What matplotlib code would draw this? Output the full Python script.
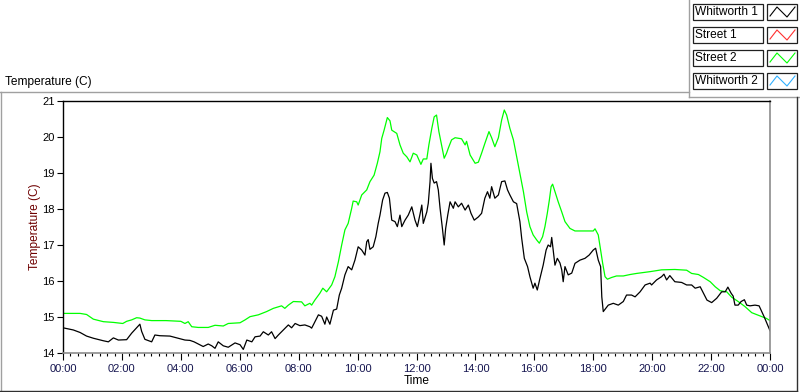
import matplotlib
matplotlib.use("Agg")
import matplotlib.pyplot as plt
from matplotlib.lines import Line2D
from matplotlib.patches import Rectangle

plt.rcParams['font.family'] = ['Liberation Sans', 'DejaVu Sans']

# ---------------- data ----------------
series_names = ["Whitworth 1", "Street 1", "Street 2", "Whitworth 2"]
series_colors = ["#000000", "#ff3030", "#00ff00", "#30b0ff"]

w1_hours = [0.00, 0.35, 0.58, 0.80, 1.03, 1.37, 1.54, 1.71, 1.88, 2.16, 2.33, 2.50, 2.61, 2.67,
            2.78, 3.01, 3.12, 3.29, 3.63, 3.91, 4.14, 4.31, 4.45, 4.59, 4.76, 4.93, 5.05, 5.16,
            5.27, 5.44, 5.61, 5.84, 6.01, 6.12, 6.24, 6.41, 6.52, 6.69, 6.80, 6.97, 7.08, 7.20,
            7.31, 7.48, 7.65, 7.76, 7.88, 8.04, 8.21, 8.38, 8.44, 8.51, 8.67, 8.78, 8.89, 8.95,
            9.06, 9.18, 9.29, 9.38, 9.46, 9.57, 9.68, 9.80, 9.91, 10.02, 10.14, 10.25, 10.31,
            10.36, 10.42, 10.53, 10.62, 10.70, 10.76, 10.85, 10.93, 11.01, 11.08, 11.16, 11.27,
            11.35, 11.44, 11.50, 11.61, 11.72, 11.84, 11.95, 12.03, 12.12, 12.18, 12.23, 12.35,
            12.40, 12.46, 12.49, 12.54, 12.60, 12.68, 12.74, 12.80, 12.88, 12.94, 12.99, 13.06,
            13.14, 13.25, 13.31, 13.42, 13.53, 13.65, 13.76, 13.85, 13.96, 14.10, 14.21, 14.32,
            14.41, 14.49, 14.55, 14.66, 14.78, 14.89, 15.00, 15.09, 15.17, 15.29, 15.40, 15.51,
            15.57, 15.66, 15.77, 15.85, 15.96, 16.02, 16.10, 16.19, 16.30, 16.40, 16.47, 16.55,
            16.59, 16.64, 16.70, 16.78, 16.87, 16.93, 16.98, 17.04, 17.15, 17.27, 17.38, 17.55,
            17.72, 17.86, 18.00, 18.08, 18.17, 18.25, 18.29, 18.34, 18.51, 18.68, 18.85, 19.02,
            19.13, 19.30, 19.42, 19.59, 19.76, 19.93, 19.98, 20.15, 20.32, 20.40, 20.49, 20.60,
            20.77, 21.00, 21.17, 21.34, 21.46, 21.63, 21.74, 21.86, 22.02, 22.19, 22.36, 22.48,
            22.57, 22.68, 22.75, 22.81, 22.92, 23.02, 23.13, 23.21, 23.32, 23.49, 23.63, 23.72,
            23.81, 23.92, 24.00]
w1_temp = [14.70, 14.64, 14.57, 14.47, 14.41, 14.34, 14.31, 14.42, 14.36, 14.37, 14.55, 14.70, 14.80, 14.60,
           14.38, 14.31, 14.50, 14.48, 14.47, 14.41, 14.36, 14.35, 14.31, 14.25, 14.18, 14.25, 14.20, 14.13,
           14.31, 14.20, 14.16, 14.28, 14.23, 14.10, 14.36, 14.31, 14.45, 14.47, 14.59, 14.50, 14.59, 14.40,
           14.50, 14.64, 14.78, 14.70, 14.82, 14.76, 14.78, 14.73, 14.69, 14.80, 15.06, 15.02, 14.80, 15.00,
           14.80, 15.19, 15.22, 15.61, 15.80, 16.17, 16.40, 16.31, 16.58, 16.95, 16.86, 16.72, 17.09,
           17.15, 16.88, 16.95, 17.23, 17.60, 17.83, 18.25, 18.44, 18.46, 18.30, 17.69, 17.65,
           17.51, 17.83, 17.51, 17.69, 17.83, 18.06, 17.69, 17.51, 17.86, 18.11, 17.60, 17.92,
           18.16, 18.76, 19.27, 18.85, 18.72, 18.76, 18.53, 18.02, 17.46, 17.00, 17.46, 17.83,
           18.20, 18.02, 18.20, 18.06, 18.16, 17.97, 18.11, 17.88, 17.69, 17.78, 17.88, 18.30,
           18.48, 18.30, 18.62, 18.30, 18.39, 18.76, 18.78, 18.53, 18.39, 18.20, 18.15, 17.65,
           17.19, 16.63, 16.40, 16.12, 15.80, 15.94, 15.75, 16.07, 16.44, 16.86, 17.00, 16.95,
           17.21, 16.86, 16.44, 16.63, 16.50, 16.31, 15.98, 16.40, 16.17, 16.22, 16.49, 16.58,
           16.63, 16.72, 16.86, 16.91, 16.58, 16.40, 15.56, 15.15, 15.33, 15.38, 15.33, 15.43,
           15.61, 15.61, 15.56, 15.70, 15.89, 15.94, 15.89, 16.03, 16.12, 16.19, 16.03, 16.15,
           15.98, 15.96, 15.89, 15.89, 15.80, 15.84, 15.66, 15.47, 15.40, 15.52, 15.70, 15.70,
           15.83, 15.66, 15.58, 15.33, 15.33, 15.43, 15.48, 15.33, 15.31, 15.33, 15.31, 15.15,
           14.99, 14.78, 14.62]

s2_hours = [0.00, 0.35, 0.58, 0.80, 1.03, 1.37, 1.71, 2.03, 2.16, 2.33, 2.50, 2.61, 2.78, 3.01,
            3.50, 4.00, 4.14, 4.25, 4.37, 4.59, 4.93, 5.16, 5.44, 5.61, 6.01, 6.18, 6.35, 6.63,
            6.91, 7.14, 7.42, 7.53, 7.65, 7.82, 8.10, 8.21, 8.38, 8.44, 8.55, 8.72, 8.82, 8.95,
            9.12, 9.23, 9.35, 9.46, 9.57, 9.68, 9.80, 9.85, 9.97, 10.02, 10.14, 10.31, 10.42,
            10.56, 10.67, 10.76, 10.82, 10.90, 11.01, 11.10, 11.16, 11.33, 11.44, 11.55, 11.67,
            11.78, 11.89, 12.01, 12.15, 12.23, 12.35, 12.42, 12.52, 12.60, 12.68, 12.76, 12.85,
            12.94, 13.02, 13.08, 13.19, 13.31, 13.53, 13.65, 13.70, 13.82, 13.99, 14.10, 14.21,
            14.32, 14.46, 14.55, 14.66, 14.78, 14.89, 14.98, 15.06, 15.17, 15.29, 15.40, 15.51,
            15.63, 15.74, 15.85, 15.96, 16.08, 16.17, 16.28, 16.36, 16.44, 16.51, 16.57, 16.62,
            16.70, 16.81, 16.93, 17.04, 17.21, 17.38, 18.00, 18.06, 18.17, 18.25, 18.32, 18.40,
            18.48, 18.63, 18.79, 19.02, 19.25, 19.47, 19.93, 20.32, 20.77, 21.17, 21.34, 21.57,
            21.74, 21.97, 22.14, 22.31, 22.53, 22.70, 22.92, 23.15, 23.38, 23.66, 23.88, 24.00]
s2_temp = [15.10, 15.10, 15.10, 15.07, 14.94, 14.87, 14.85, 14.82, 14.88, 14.92, 14.98, 14.97, 14.92, 14.90,
           14.90, 14.88, 14.82, 14.87, 14.73, 14.71, 14.71, 14.77, 14.75, 14.82, 14.84, 14.92, 15.01, 15.06,
           15.15, 15.24, 15.31, 15.24, 15.33, 15.43, 15.42, 15.31, 15.38, 15.33, 15.47, 15.66, 15.80, 15.70,
           15.89, 16.12, 16.54, 17.00, 17.42, 17.60, 18.02, 18.22, 18.20, 18.11, 18.39, 18.53, 18.76,
           18.94, 19.27, 19.59, 19.96, 20.19, 20.54, 20.45, 20.19, 20.10, 19.78, 19.55, 19.45,
           19.31, 19.55, 19.50, 19.24, 19.39, 19.39, 19.78, 20.24, 20.56, 20.61, 20.15, 19.78,
           19.41, 19.55, 19.69, 19.92, 19.98, 19.95, 19.78, 19.88, 19.50, 19.27, 19.30, 19.55,
           19.82, 20.15, 19.98, 19.73, 19.98, 20.47, 20.75, 20.61, 20.24, 19.92, 19.45, 18.99,
           18.48, 17.92, 17.51, 17.28, 17.14, 17.05, 17.23, 17.51, 17.88, 18.25, 18.62, 18.69,
           18.48, 18.20, 17.92, 17.65, 17.46, 17.39, 17.39, 17.45, 17.28, 16.86, 16.49, 16.12,
           16.05, 16.10, 16.14, 16.14, 16.18, 16.21, 16.26, 16.31, 16.32, 16.30, 16.21, 16.18,
           16.10, 15.98, 15.84, 15.73, 15.70, 15.55, 15.43, 15.29, 15.12, 15.03, 14.96, 14.90]

s1_hours, s1_temp = [], []
w2_hours, w2_temp = [], []

x_ticks = [0, 2, 4, 6, 8, 10, 12, 14, 16, 18, 20, 22, 24]
x_tick_labels = ["00:00", "02:00", "04:00", "06:00", "08:00", "10:00", "12:00",
                 "14:00", "16:00", "18:00", "20:00", "22:00", "00:00"]
y_ticks = [14, 15, 16, 17, 18, 19, 20, 21]

# ---------------- figure ----------------
W, H = 800, 392
fig = plt.figure(figsize=(8.0, 3.92), dpi=100)

def fx(x):
    return x / W

def fy(y):
    return 1 - y / H

ax = fig.add_axes([fx(63), fy(353), fx(770) - fx(63), fy(101) - fy(353)])

ax.plot(s1_hours, s1_temp, color=series_colors[1], lw=0.9)
ax.plot(w2_hours, w2_temp, color=series_colors[3], lw=0.9)
ax.plot(s2_hours, s2_temp, color=series_colors[2], lw=0.9)
ax.plot(w1_hours, w1_temp, color=series_colors[0], lw=0.9)

ax.set_xlim(0, 24)
ax.set_ylim(14, 21)
ax.set_xticks(x_ticks)
ax.set_xticklabels(x_tick_labels)
ax.set_xticks([h / 4 for h in range(0, 97)], minor=True)
ax.set_yticks(y_ticks)
ax.set_yticklabels([str(v) for v in y_ticks])

fs = 8
fs_lab = 8.6
ax.tick_params(axis='x', which='major', direction='out', length=5, width=0.8,
               colors='#000000', labelcolor='#161650', labelsize=fs, pad=3)
ax.tick_params(axis='x', which='minor', direction='out', length=2.5, width=0.8, colors='#000000')
ax.tick_params(axis='y', which='major', direction='out', length=4, width=0.8,
               colors='#000000', labelcolor='#000000', labelsize=fs, pad=2)

for side in ['left', 'top']:
    ax.spines[side].set_color('#000000')
    ax.spines[side].set_linewidth(1.0)
for side in ['right', 'bottom']:
    ax.spines[side].set_color('#8c8c8c')
    ax.spines[side].set_linewidth(1.2)

ax.set_xlabel("Time", fontsize=fs_lab, color='#000000', labelpad=1)
ax.set_ylabel("Temperature (C)", fontsize=fs_lab, color='#6e0000', labelpad=1)

# top-left title text
fig.text(fx(5), fy(82), "Temperature (C)", fontsize=fs_lab, color='#000000',
         ha='left', va='center')

# frame lines
def fline(x0, y0, x1, y1, color, lw=1.0):
    fig.add_artist(Line2D([fx(x0), fx(x1)], [fy(y0), fy(y1)], color=color, lw=lw,
                          transform=fig.transFigure))

fline(0, 92, 689, 92, '#a0a0a0')
fline(689, 0, 689, 97, '#a0a0a0')
fline(689, 97, 800, 97, '#a0a0a0')
fline(0.5, 92, 0.5, 391, '#a0a0a0')
fline(0, 391, 797, 391, '#303030')
fline(797, 97, 797, 391, '#303030')

# legend
row_tops = [4, 27, 50, 73]
row_h = 16
for name, color, top in zip(series_names, series_colors, row_tops):
    fig.add_artist(Rectangle((fx(693), fy(top + row_h)), fx(763) - fx(693), fy(top) - fy(top + row_h),
                             transform=fig.transFigure, facecolor='white',
                             edgecolor='#202020', lw=0.9))
    fig.text(fx(695), fy(top + row_h / 2), name, fontsize=fs_lab, color='#000000',
             ha='left', va='center')
    fig.add_artist(Rectangle((fx(767), fy(top + row_h)), fx(797) - fx(767), fy(top) - fy(top + row_h),
                             transform=fig.transFigure, facecolor='white',
                             edgecolor='#202020', lw=0.9))
    zx = [770, 777, 787, 795]
    zy = [top + 12, top + 3, top + 13, top + 3]
    fig.add_artist(Line2D([fx(v) for v in zx], [fy(v) for v in zy], color=color, lw=0.8,
                          transform=fig.transFigure))

fig.savefig("out.png", dpi=100)
